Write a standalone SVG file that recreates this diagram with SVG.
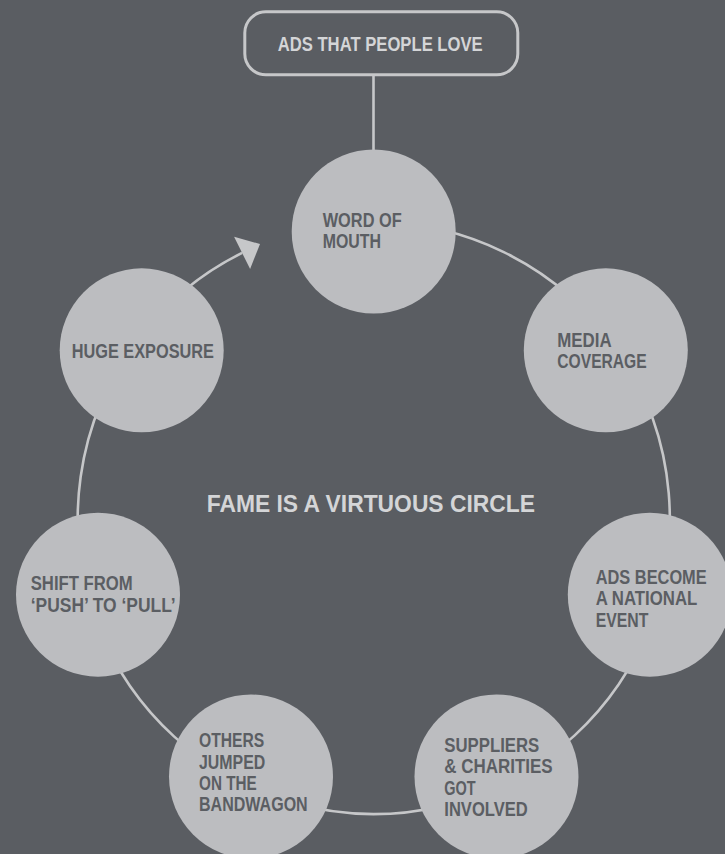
<svg xmlns="http://www.w3.org/2000/svg" width="725" height="854" viewBox="0 0 725 854">
  <defs>
    <style>
      .bg { fill: #5a5d62; }
      .line { fill: none; stroke: #c6c7c9; stroke-width: 2.6; }
      .head { fill: #c6c7c9; stroke: none; }
      .node { fill: #bcbdc0; }
      .box { fill: none; stroke: #c6c7c9; stroke-width: 3; }
      text { font-family: "Liberation Sans Narrow", "Liberation Sans", Arial, sans-serif; font-weight: bold; }
      .t { fill: #5b5e63; font-size: 20px; }
      .light { fill: #d4d5d7; font-size: 20px; }
      .title { fill: #d4d5d7; font-size: 24px; }
    </style>
  </defs>
  <rect class="bg" x="0" y="0" width="725" height="854"/>

  <g id="connectors">
    <line class="line" x1="373.5" y1="75" x2="373.5" y2="152"/>
    <path class="line" d="M 373.75 222 A 296 296 0 1 1 242.1 252.9"/>
    <polygon class="head" points="234.1,236.8 260,244 250.1,269"/>
  </g>

  <g id="ads-that-people-love">
    <rect class="box" x="244.8" y="11.8" width="273" height="63" rx="21" ry="21"/>
    <text class="light" x="277.7" y="50.7" textLength="205" lengthAdjust="spacingAndGlyphs">ADS THAT PEOPLE LOVE</text>
  </g>

  <g id="word-of-mouth">
    <circle class="node" cx="373.7" cy="231.5" r="82"/>
    <text class="t" x="322.7" y="226.5" textLength="79" lengthAdjust="spacingAndGlyphs">WORD OF</text>
    <text class="t" x="322.7" y="247.5" textLength="58.3" lengthAdjust="spacingAndGlyphs">MOUTH</text>
  </g>

  <g id="media-coverage">
    <circle class="node" cx="605.8" cy="350.3" r="82"/>
    <text class="t" x="557.3" y="347" textLength="54.4" lengthAdjust="spacingAndGlyphs">MEDIA</text>
    <text class="t" x="557.3" y="368" textLength="89.4" lengthAdjust="spacingAndGlyphs">COVERAGE</text>
  </g>

  <g id="ads-become-national-event">
    <circle class="node" cx="649.8" cy="594.7" r="82"/>
    <text class="t" x="595.7" y="583.8" textLength="111" lengthAdjust="spacingAndGlyphs">ADS BECOME</text>
    <text class="t" x="595.7" y="605.3" textLength="101.6" lengthAdjust="spacingAndGlyphs">A NATIONAL</text>
    <text class="t" x="595.7" y="626.5" textLength="52.6" lengthAdjust="spacingAndGlyphs">EVENT</text>
  </g>

  <g id="suppliers-charities">
    <circle class="node" cx="496.5" cy="776.5" r="82"/>
    <text class="t" x="444.3" y="752" textLength="95" lengthAdjust="spacingAndGlyphs">SUPPLIERS</text>
    <text class="t" x="444.3" y="773" textLength="108.4" lengthAdjust="spacingAndGlyphs">&amp; CHARITIES</text>
    <text class="t" x="444.3" y="794.7" textLength="31.4" lengthAdjust="spacingAndGlyphs">GOT</text>
    <text class="t" x="444.3" y="816.4" textLength="83.4" lengthAdjust="spacingAndGlyphs">INVOLVED</text>
  </g>

  <g id="others-jumped">
    <circle class="node" cx="251" cy="776.5" r="82"/>
    <text class="t" x="199" y="747.4" textLength="65.3" lengthAdjust="spacingAndGlyphs">OTHERS</text>
    <text class="t" x="199" y="768.7" textLength="66.3" lengthAdjust="spacingAndGlyphs">JUMPED</text>
    <text class="t" x="199" y="789.7" textLength="57.7" lengthAdjust="spacingAndGlyphs">ON THE</text>
    <text class="t" x="199" y="811.4" textLength="108.7" lengthAdjust="spacingAndGlyphs">BANDWAGON</text>
  </g>

  <g id="shift-push-pull">
    <circle class="node" cx="98" cy="594.7" r="82"/>
    <text class="t" x="30.7" y="590.4" textLength="102" lengthAdjust="spacingAndGlyphs">SHIFT FROM</text>
    <text class="t" x="30.7" y="612.4" textLength="145" lengthAdjust="spacingAndGlyphs">‘PUSH’ TO ‘PULL’</text>
  </g>

  <g id="huge-exposure">
    <circle class="node" cx="141.7" cy="350.3" r="82"/>
    <text class="t" x="71.7" y="358" textLength="142.3" lengthAdjust="spacingAndGlyphs">HUGE EXPOSURE</text>
  </g>

  <g id="title">
    <text class="title" x="206.7" y="512" textLength="328.3" lengthAdjust="spacingAndGlyphs">FAME IS A VIRTUOUS CIRCLE</text>
  </g>
</svg>
